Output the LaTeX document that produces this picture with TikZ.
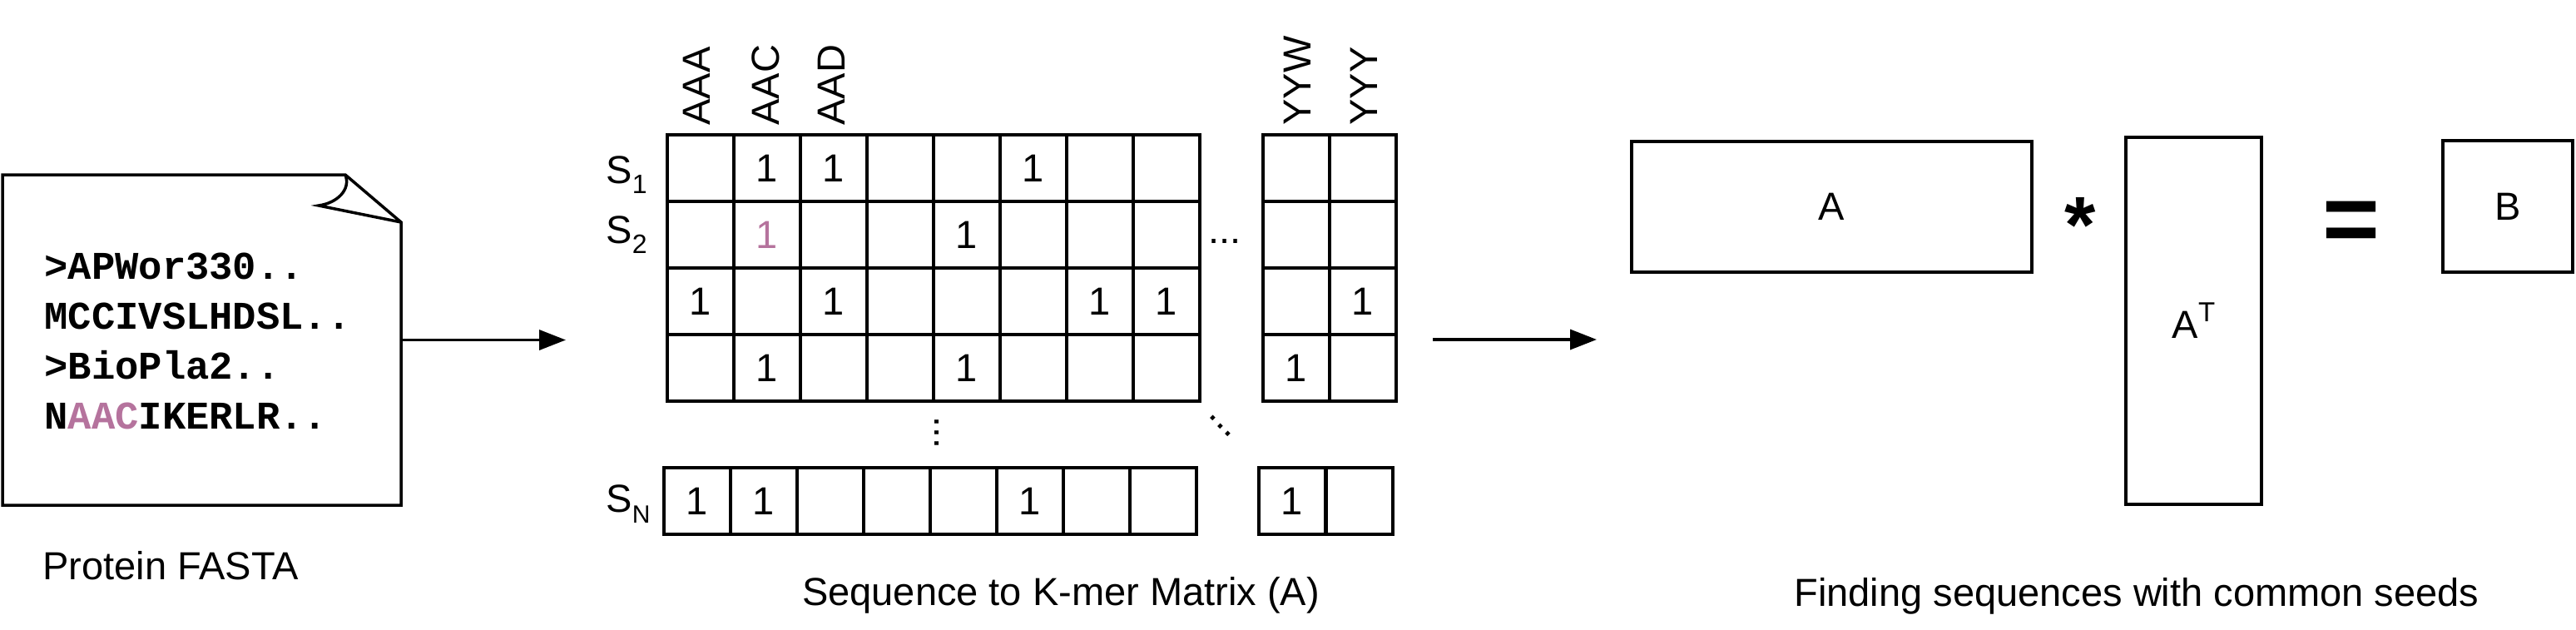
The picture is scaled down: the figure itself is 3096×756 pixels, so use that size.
\documentclass[tikz,border=0pt]{standalone}
\usepackage{fontspec}
\setmainfont{Liberation Sans}
\setmonofont{Liberation Mono}
\usetikzlibrary{arrows.meta}
\definecolor{kmer}{HTML}{B5739D}
\begin{document}
\begin{tikzpicture}[x=0.5pt,y=-0.5pt,
  outl/.style={draw=black, line width=1.75pt, line join=miter},
  cell/.style={draw=black, line width=1.75pt, minimum width=40pt, minimum height=40pt, inner sep=0pt, outer sep=0pt},
  lab/.style={font=\fontsize{23.5}{28}\selectfont, inner sep=0pt},
  digit/.style={lab},
  collab/.style={lab, rotate=90, anchor=west},
  rowlab/.style={lab, anchor=base west},
  fasta/.style={font=\ttfamily\bfseries\fontsize{23.6}{30}\selectfont, inner sep=0pt, anchor=base west},
  arr/.style={line width=1.75pt, -{Triangle[length=16pt,width=12pt]}},
  mat/.style={draw=black, line width=1.75pt, inner sep=0pt, outer sep=0pt, font=\fontsize{23.5}{28}\selectfont}]
\useasboundingbox (0,0) rectangle (3096,756);

% ---------- FASTA document ----------
\node[minimum width=239.5pt, minimum height=198.5pt, inner sep=0pt, outer sep=0pt] (doc) at (242.5,408.5) {};
\coordinate (fA) at (415,210);
\coordinate (fB) at (482,267);
\coordinate (fC) at (383,247);
\draw[outl] (doc.north west) -- (fA) -- (fB) -- (doc.south east) -- (doc.south west) -- cycle;
\draw[outl] (fA) .. controls (422,228) and (405,244) .. (fC) -- (fB);
\node[fasta] (f1) at (53,335) {>APWor330..};
\node[fasta] (f2) at (53,395) {MCCIVSLHDSL..};
\node[fasta] (f3) at (53,455) {>BioPla2..};
\node[fasta] (f4) at (53,515) {N\textcolor{kmer}{AAC}IKERLR..};
\node[lab, anchor=base west] (cap1) at (51,696) {Protein FASTA};

\coordinate (a1e) at (680,408.5);
\draw[arr] (doc.east) -- (a1e);

% ---------- K-mer matrix ----------
\foreach \r in {1,...,4} {
  \foreach \c in {1,...,8} {
    \node[cell] (m\r-\c) at ({842+80*(\c-1)},{202+80*(\r-1)}) {};
  }
  \node[cell] (m\r-9) at (1558,{202+80*(\r-1)}) {};
  \node[cell] (m\r-10) at (1638,{202+80*(\r-1)}) {};
}
\foreach \c in {1,...,8} {
  \node[cell] (mN-\c) at ({838+80*(\c-1)},602) {};
}
\node[cell] (mN-9) at (1553,602) {};
\node[cell] (mN-10) at (1634,602) {};

% digits
\node[digit] (d1) at (m1-2) {1};
\node[digit] (d2) at (m1-3) {1};
\node[digit] (d3) at (m1-6) {1};
\node[digit, text=kmer] (d4) at (m2-2) {1};
\node[digit] (d5) at (m2-5) {1};
\node[digit] (d6) at (m3-1) {1};
\node[digit] (d7) at (m3-3) {1};
\node[digit] (d8) at (m3-7) {1};
\node[digit] (d9) at (m3-8) {1};
\node[digit] (d10) at (m3-10) {1};
\node[digit] (d11) at (m4-2) {1};
\node[digit] (d12) at (m4-5) {1};
\node[digit] (d13) at (m4-9) {1};
\node[digit] (d14) at (mN-1) {1};
\node[digit] (d15) at (mN-2) {1};
\node[digit] (d16) at (mN-6) {1};
\node[digit] (d17) at (mN-9) {1};

% column labels
\node[collab] (lAAA) at (837,151) {AAA};
\node[collab] (lAAC) at (920,151) {AAC};
\node[collab] (lAAD) at (999,151) {AAD};
\node[collab] (lYYW) at (1559,151) {YYW};
\node[collab] (lYYY) at (1639,151) {YYY};

% row labels
\node[rowlab] (s1) at (728,220) {S\raisebox{-6pt}{\fontsize{16}{18}\selectfont 1}};
\node[rowlab] (s2) at (728,292) {S\raisebox{-6pt}{\fontsize{16}{18}\selectfont 2}};
\node[rowlab] (sN) at (728,615) {S\raisebox{-6.5pt}{\fontsize{15}{18}\selectfont N}};

% ellipses
\node[lab] (hdots) at (1472,290) {...};
\node[lab, rotate=90] (vdots) at (1126,520) {...};
\node[lab, rotate=-45] (ddots) at (1467,512) {...};

\node[lab, anchor=base] (cap2) at (1275,727) {Sequence to K-mer Matrix (A)};

% ---------- arrow to product ----------
\coordinate (a2s) at (1722,408);
\coordinate (a2e) at (1919,408);
\draw[arr] (a2s) -- (a2e);

% ---------- A * A^T = B ----------
\node[mat, minimum width=240.5pt, minimum height=78.5pt] (A) at (2201.5,248.5) {A};
\node[font=\bfseries\fontsize{48}{50}\selectfont, inner sep=0pt, anchor=base] (star) at (2500,303) {*};
\node[mat, minimum width=81.5pt, minimum height=220.5pt] (AT) at (2636.5,385.5) {A\raisebox{10pt}{\fontsize{16.5}{18}\selectfont T}};
\node[font=\bfseries\fontsize{59}{60}\selectfont, inner sep=0pt, anchor=base] (eq) at (2826,303) {=};
\node[mat, minimum width=78pt, minimum height=79pt] (B) at (3014,248) {B};

\node[lab, anchor=base] (cap3) at (2568,728) {Finding sequences with common seeds};
\end{tikzpicture}
\end{document}
